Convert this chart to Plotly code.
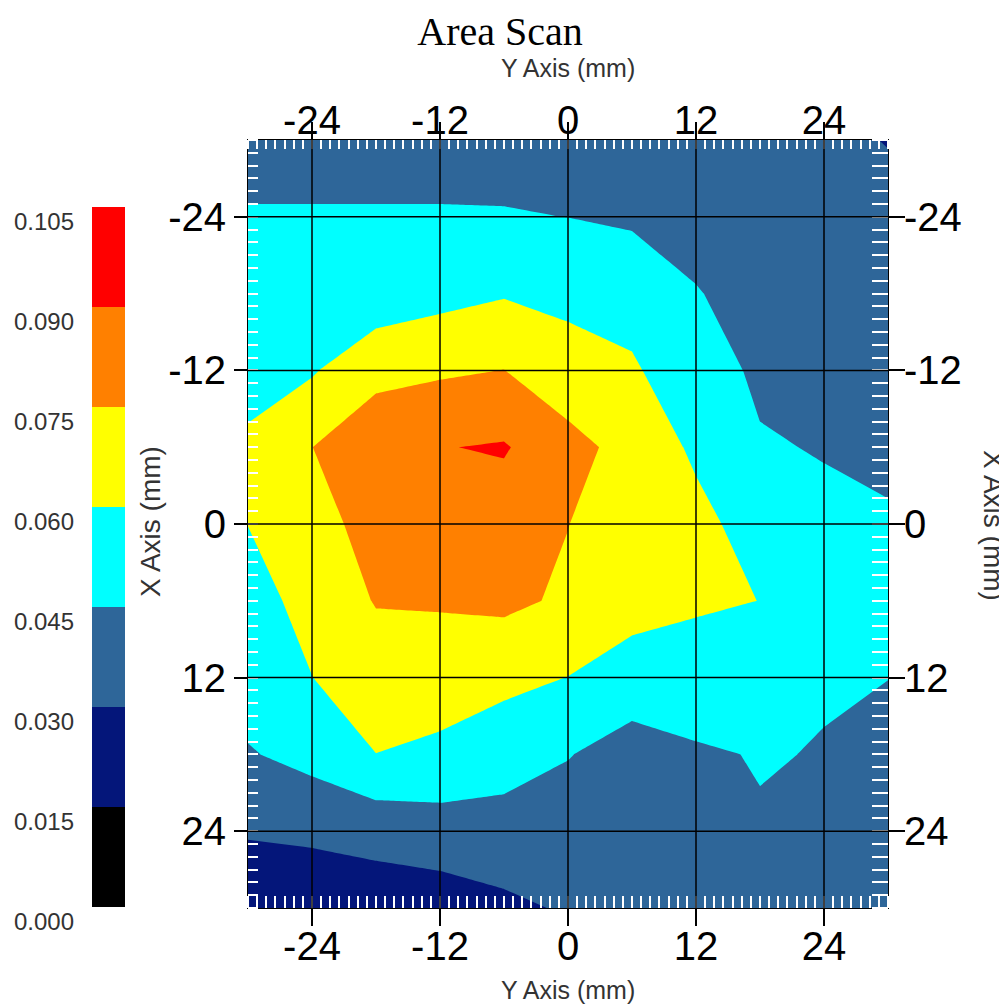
import plotly.graph_objects as go

# scan positions (mm) - Y axis runs left/right, X axis runs top/bottom
y_axis_mm = [-30, -24, -18, -12, -6, 0, 6, 12, 18, 24, 30]
x_axis_mm = [-30, -24, -18, -12, -6, 0, 6, 12, 18, 24, 30]

scan_x_m30 = [0.040, 0.040, 0.040, 0.040, 0.040, 0.040, 0.039, 0.037, 0.035, 0.033, 0.0295]
scan_x_m24 = [0.046, 0.046, 0.046, 0.046, 0.0458, 0.0449, 0.043, 0.040, 0.037, 0.035, 0.034]
scan_x_m18 = [0.050, 0.052, 0.050, 0.0553, 0.0589, 0.0567, 0.0539, 0.0457, 0.040, 0.036, 0.034]
scan_x_m12 = [0.052, 0.0585, 0.072, 0.073, 0.0752, 0.0657, 0.062, 0.050, 0.0432, 0.040, 0.037]
scan_x_m6 = [0.0637, 0.0749, 0.082, 0.0895, 0.0912, 0.080, 0.0697, 0.0576, 0.0459, 0.0444, 0.042]
scan_x_0 = [0.0601, 0.068, 0.082, 0.086, 0.083, 0.0752, 0.068, 0.064, 0.054, 0.0473, 0.0465]
scan_x_p6 = [0.0571, 0.0625, 0.076, 0.0766, 0.078, 0.0729, 0.066, 0.062, 0.0599, 0.052, 0.049]
scan_x_p12 = [0.052, 0.0599, 0.066, 0.066, 0.064, 0.0598, 0.0527, 0.0528, 0.050, 0.0459, 0.0452]
scan_x_p18 = [0.0438, 0.050, 0.0599, 0.0574, 0.0507, 0.0456, 0.0391, 0.0434, 0.0457, 0.0445, 0.0392]
scan_x_p24 = [0.031, 0.0325, 0.035, 0.0378, 0.0397, 0.038, 0.037, 0.039, 0.044, 0.040, 0.037]
scan_x_p30 = [0.022, 0.021, 0.022, 0.0227, 0.0268, 0.0316, 0.034, 0.036, 0.038, 0.039, 0.039]

levels = [0.000, 0.015, 0.030, 0.045, 0.060, 0.075, 0.090, 0.105]
band_colors = ["#000000", "#04167a", "#2e6699", "#00ffff", "#ffff00", "#ff8000", "#ff0000"]
tick_mm = [-24, -12, 0, 12, 24]

z = [scan_x_m30, scan_x_m24, scan_x_m18, scan_x_m12, scan_x_m6, scan_x_0,
     scan_x_p6, scan_x_p12, scan_x_p18, scan_x_p24, scan_x_p30]

cscale = [[i / (len(band_colors) - 1), c] for i, c in enumerate(band_colors)]
step = levels[1] - levels[0]
mids = [(a + b) / 2 for a, b in zip(levels[:-1], levels[1:])]
tick_text = [str(t) for t in tick_mm]   # plain hyphen minus like the original

W, H = 1007, 1006
OFF = 8   # the html page body has an 8px margin, so aim everything 8px up/left
plot_l, plot_r, plot_t, plot_b = 248 - OFF, 888 - OFF, 140 - OFF, 908 - OFF
ml, mr, mt, mb = 2, W - plot_r, plot_t, H - plot_b
pw = W - ml - mr
ph = H - mt - mb
cb_left, cb_right = 92 - OFF, 125 - OFF
cb_top, cb_bot = 207 - OFF, 907 - OFF


def px_x(p):
    return (p - OFF - ml) / pw


def px_y(p):
    return (H - mb - (p - OFF)) / ph


fig = go.Figure()

fig.add_trace(go.Contour(
    x=y_axis_mm, y=x_axis_mm, z=z,
    contours=dict(start=levels[1], end=levels[-2], size=step,
                  coloring="fill", showlines=False),
    line=dict(width=0, smoothing=0),
    colorscale=cscale, showscale=False,
    xaxis="x", yaxis="y", hoverinfo="skip"))

# the colour key, drawn as a one-column heatmap on its own axes
fig.add_trace(go.Heatmap(
    x=[0], y=mids, z=[[m] for m in mids],
    colorscale=cscale, zmin=mids[0], zmax=mids[-1], showscale=False,
    xaxis="x2", yaxis="y2", hoverinfo="skip"))

# empty trace so the mirrored top/right axes get drawn
fig.add_trace(go.Scatter(x=[], y=[], xaxis="x3", yaxis="y3", showlegend=False))

tickfont = dict(family="Liberation Sans, Arial", size=40, color="black")
ytitlefont = dict(family="Liberation Sans, Arial", size=25, color="#333")
xtitlefont = dict(family="Liberation Sans, Arial", size=28, color="#333")


def minor(dt, ln):
    return dict(ticks="inside", ticklen=ln, tickwidth=1.5, tickcolor="white",
                dtick=dt, tick0=0, showgrid=False)


xdom = [(plot_l - ml) / pw, 1]
common_x = dict(range=[-30, 30], tickvals=tick_mm, ticktext=tick_text, ticks="outside",
                ticklen=17, tickwidth=1.5, tickcolor="black", tickfont=tickfont,
                showgrid=False, zeroline=False, showline=True, linecolor="black",
                linewidth=1, automargin=False)
common_y = dict(range=[30, -30], tickvals=tick_mm, ticktext=tick_text, ticks="outside",
                tickwidth=1.5, tickcolor="black", tickfont=tickfont,
                showgrid=False, zeroline=False, showline=True, linecolor="black",
                linewidth=1, automargin=False)

fig.update_layout(
    width=W, height=H,
    margin=dict(l=ml, r=mr, t=mt, b=mb, autoexpand=False),
    paper_bgcolor="white", plot_bgcolor="white",
    showlegend=False,
    title=dict(text="Area Scan", x=(500 - OFF) / W, xref="container", xanchor="center",
               y=1 - (31 - OFF) / H, yref="container", yanchor="middle",
               font=dict(family="Liberation Serif, Times New Roman", size=40, color="black")),
    xaxis=dict(domain=xdom, anchor="y", side="bottom", ticklabelstandoff=-14,
               minor=minor(12 / 14, 12), **common_x),
    xaxis3=dict(domain=xdom, anchor="y3", overlaying="x", matches="x", side="top",
                ticklabelstandoff=-28, minor=minor(12 / 14, 9), **common_x),
    yaxis=dict(domain=[0, 1], anchor="x", side="left", ticklen=13,
               minor=minor(1, 10), **common_y),
    yaxis3=dict(domain=[0, 1], anchor="x3", overlaying="y", matches="y", side="right",
                ticklen=16, ticklabelstandoff=-9, minor=minor(1, 16), **common_y),
    xaxis2=dict(domain=[(cb_left - ml) / pw, (cb_right - ml) / pw], anchor="y2",
                range=[-0.5, 0.5], visible=False, fixedrange=True),
    yaxis2=dict(domain=[(H - mb - cb_bot) / ph, (H - mb - cb_top) / ph], anchor="x2",
                range=[levels[0], levels[-1]], tickvals=levels,
                ticktext=["%.3f" % v for v in levels], ticks="", showgrid=False,
                zeroline=False, showline=False, side="left", automargin=False,
                ticklabelstandoff=17, ticklabelshift=15,
                tickfont=dict(family="Liberation Sans, Arial", size=24, color="#333")),
)

# black grid lines over the filled contours
for t in tick_mm:
    fig.add_shape(type="line", xref="x", yref="y domain", x0=t, x1=t, y0=0, y1=1,
                  line=dict(color="black", width=1.5), layer="above")
    fig.add_shape(type="line", xref="x domain", yref="y", x0=0, x1=1, y0=t, y1=t,
                  line=dict(color="black", width=1.5), layer="above")

# axis titles (positions given in reference-picture pixels)
plot_mid = px_x(568)
ann = dict(xref="paper", yref="paper", showarrow=False, xanchor="center", yanchor="middle")
fig.add_annotation(text="Y Axis (mm)", x=plot_mid, y=px_y(68), font=ytitlefont, **ann)
fig.add_annotation(text="Y Axis (mm)", x=plot_mid, y=px_y(990), font=ytitlefont, **ann)
fig.add_annotation(text="X Axis (mm)", textangle=-90, x=px_x(150), y=px_y(522),
                   font=xtitlefont, **ann)
fig.add_annotation(text="X Axis (mm)", textangle=90, x=px_x(994), y=px_y(525),
                   font=xtitlefont, **ann)

fig.write_html("out.html")
